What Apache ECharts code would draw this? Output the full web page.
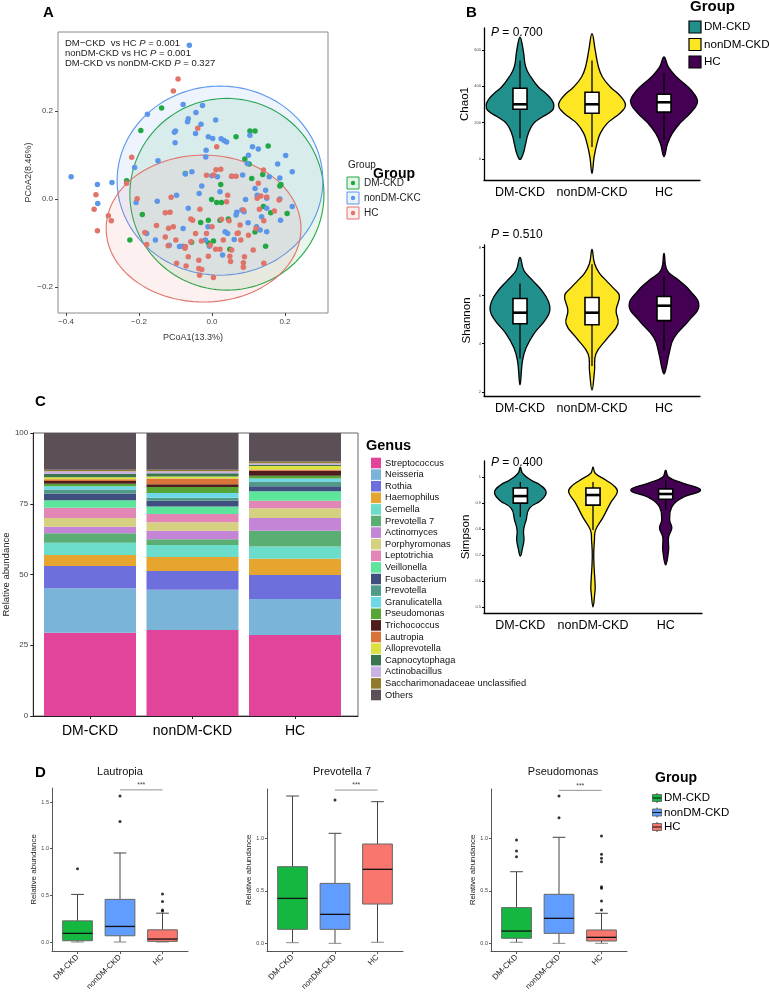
<!DOCTYPE html>
<html><head><meta charset="utf-8">
<script src="https://cdn.jsdelivr.net/npm/echarts@6/dist/echarts.min.js"></script>
<style>html,body{margin:0;padding:0;background:#fff}#c{width:769px;height:993px}</style>
</head><body><div id="c"></div>
<script>
const FF = '"Liberation Sans", Arial, Helvetica, sans-serif';
const groups = ['DM-CKD', 'nonDM-CKD', 'HC'];
const legendNamesA = ['DM-CKD', 'nonDM-CKC', 'HC'];
const colorsA = ['#22A843', '#5B96E8', '#E0736A'];
const violinColors = ['#21908C', '#FDE725', '#440154'];
const boxColorsD = ['#14B840', '#619CFF', '#F8766D'];

// ---- Panel A: PCoA points [PCoA1, PCoA2]
const pcoaDM = [[-0.138,0.207],[-0.195,0.156],[0.066,0.142],[0.104,0.155],[0.118,0.155],[0.154,0.121],[0.090,0.091],[0.102,0.080],[-0.073,0.058],[0.024,0.033],[-0.234,0.042],[-0.191,-0.035],[-0.225,-0.093],[-0.001,-0.001],[0.013,-0.008],[0.026,-0.008],[-0.010,-0.048],[0.022,-0.048],[0.045,-0.045],[-0.031,-0.053],[0.004,-0.095],[-0.056,-0.098],[0.049,-0.114],[0.118,-0.075],[0.147,-0.107],[0.161,-0.031],[0.206,-0.033],[0.189,0.033],[0.186,0.030],[0.141,-0.017],[0.139,0.056],[0.109,0.047],[-0.010,-0.100]];
const pcoaNon = [[-0.062,0.350],[-0.386,0.051],[-0.314,0.033],[-0.313,-0.010],[-0.274,0.038],[-0.177,0.193],[-0.079,0.215],[-0.026,0.213],[-0.044,0.197],[-0.065,0.183],[-0.067,0.176],[-0.100,0.155],[-0.103,0.152],[-0.030,0.170],[-0.045,0.149],[0.010,0.180],[-0.010,0.142],[0.002,0.138],[0.025,0.137],[0.033,0.133],[0.040,0.130],[-0.101,0.128],[-0.148,0.087],[-0.212,0.072],[-0.055,0.062],[-0.073,0.057],[-0.016,0.111],[-0.017,0.096],[0.104,0.145],[0.111,0.119],[0.127,0.114],[0.100,0.100],[0.097,0.081],[0.202,0.099],[0.180,0.080],[0.220,0.062],[0.186,0.048],[0.157,0.051],[0.084,0.055],[0.054,0.052],[0.015,0.051],[0.000,0.053],[-0.028,0.030],[-0.035,0.013],[0.022,0.017],[-0.097,0.009],[-0.150,-0.005],[-0.208,-0.008],[-0.179,-0.078],[-0.155,-0.093],[-0.117,-0.105],[-0.079,-0.067],[-0.065,-0.021],[-0.011,-0.063],[0.029,-0.127],[0.061,-0.092],[0.036,-0.074],[0.068,-0.030],[0.092,-0.001],[0.099,-0.054],[0.122,-0.063],[0.136,-0.040],[0.150,0.002],[0.150,-0.021],[0.147,0.020],[0.188,-0.048],[0.220,-0.017],[0.186,0.000],[0.088,-0.029],[0.066,-0.036],[0.082,-0.025],[0.132,-0.070],[0.150,-0.074],[-0.080,-0.107],[-0.089,-0.108],[-0.007,-0.107],[-0.018,-0.093],[0.043,-0.078],[0.118,0.024],[0.124,0.009]];
const pcoaHC = [[-0.093,0.273],[-0.106,0.246],[-0.039,0.161],[0.013,0.119],[-0.220,0.095],[-0.234,0.036],[-0.318,0.010],[-0.323,-0.023],[-0.284,-0.038],[-0.276,-0.049],[-0.314,-0.072],[-0.205,0.001],[-0.184,-0.076],[-0.179,-0.103],[-0.152,-0.060],[-0.128,-0.031],[-0.115,-0.030],[-0.112,0.004],[-0.119,-0.066],[-0.106,-0.063],[-0.099,-0.093],[-0.128,-0.086],[-0.120,-0.106],[-0.097,-0.146],[-0.071,-0.152],[-0.073,-0.108],[-0.058,-0.045],[-0.053,-0.048],[-0.045,-0.078],[-0.058,-0.097],[-0.033,-0.023],[-0.029,-0.095],[-0.036,-0.139],[-0.036,-0.158],[-0.034,-0.173],[-0.028,-0.160],[-0.005,-0.105],[-0.010,-0.130],[0.004,-0.178],[0.010,-0.114],[0.022,-0.114],[0.026,-0.046],[0.043,0.009],[0.047,-0.049],[0.049,-0.130],[0.051,-0.142],[0.054,-0.116],[0.066,0.052],[0.072,-0.077],[0.077,-0.059],[0.079,-0.093],[0.086,-0.025],[0.089,-0.131],[0.086,-0.145],[0.086,-0.155],[0.100,-0.082],[0.113,-0.116],[0.121,-0.067],[0.124,0.002],[0.127,0.036],[0.130,-0.023],[0.134,0.007],[0.141,0.066],[0.142,-0.146],[0.142,-0.049],[0.150,0.005],[0.171,-0.027],[0.184,-0.002],[0.011,0.067],[0.024,0.068],[-0.015,0.054],[0.004,0.055],[0.054,0.052],[-0.074,-0.112],[-0.015,-0.078],[0.031,-0.093],[-0.065,-0.131],[0.069,-0.078],[0.000,-0.063],[0.040,-0.006]];
// ellipse parameters [centre x, centre y, radius x, radius y]
const ellipseDM = [0.041, 0.011, 0.266, 0.218];
const ellipseNon = [0.022, 0.042, 0.282, 0.215];
const ellipseHC = [-0.023, -0.067, 0.267, 0.167];
const pTextsA = [['DM\u2212CKD  vs HC ', ' = 0.001'], ['nonDM-CKD vs HC ', ' = 0.001'], ['DM-CKD vs nonDM-CKD ', ' = 0.327']];

// ---- Panel B: violin profiles [value, relative half-width]
const chaoProfiles = [
  [[670,0],[597,0.09],[506,0.16],[451,0.30],[396,0.51],[360,0.72],[323,0.89],[296,0.94],[268,0.90],[232,0.63],[196,0.38],[141,0.23],[86,0.16],[31,0.09],[-2,0]],
  [[689,0],[597,0.09],[506,0.18],[451,0.29],[396,0.51],[360,0.72],[323,0.88],[296,0.93],[268,0.86],[232,0.65],[196,0.42],[141,0.23],[86,0.14],[13,0.06],[-79,0]],
  [[561,0],[506,0.12],[451,0.35],[396,0.67],[360,0.83],[323,0.93],[296,0.90],[268,0.80],[232,0.63],[196,0.44],[141,0.23],[86,0.10],[13,0]]
];
const chaoBoxes = [[115,274,301,389,542],[66,252,301,367,542],[104,258,312,356,471]];
const shannonProfiles = [
  [[7.58,0],[7.04,0.11],[6.63,0.35],[6.2,0.61],[5.79,0.78],[5.38,0.83],[4.96,0.69],[4.42,0.39],[3.83,0.17],[3.3,0.07],[2.29,0]],
  [[7.92,0],[7.33,0.07],[6.92,0.21],[6.63,0.39],[6.33,0.58],[6.0,0.76],[5.38,0.67],[4.83,0.72],[4.25,0.44],[3.58,0.11],[2.88,0.07],[2.08,0]],
  [[7.75,0],[7.04,0.09],[6.63,0.42],[6.2,0.72],[5.58,0.97],[4.96,0.69],[4.25,0.28],[3.58,0.14],[3.0,0.06],[2.75,0]]
];
const shannonBoxes = [[3.38,4.83,5.29,5.88,6.5],[3.08,4.79,5.29,5.92,7.3],[3.71,4.96,5.58,5.96,6.83]];
const simpsonProfiles = [
  [[1.038,0],[1.015,0.06],[0.988,0.30],[0.969,0.55],[0.942,0.71],[0.912,0.58],[0.88,0.25],[0.835,0.16],[0.796,0.09],[0.758,0.10],[0.727,0.06],[0.696,0]],
  [[1.038,0],[1.015,0.06],[0.988,0.36],[0.962,0.61],[0.942,0.67],[0.9,0.48],[0.846,0.28],[0.796,0.07],[0.758,0.04],[0.692,0.02],[0.577,0.06],[0.554,0.05],[0.5,0]],
  [[1.027,0],[1.0,0.08],[0.977,0.47],[0.95,0.96],[0.919,0.44],[0.885,0.17],[0.835,0.11],[0.804,0.17],[0.769,0.08],[0.719,0.08],[0.662,0]]
];
const simpsonBoxes = [[0.846,0.9,0.927,0.958,0.981],[0.796,0.892,0.931,0.958,0.981],[0.873,0.915,0.935,0.954,0.988]];
const pValuesB = ['0.700', '0.510', '0.400'];
const metricNames = ['Chao1', 'Shannon', 'Simpson'];
const chaoTicks = [0, 200, 400, 600];
const shannonTicks = [2, 4, 6, 8];
const simpsonTicks = [0.5, 0.6, 0.7, 0.8, 0.9, 1.0];

// ---- Panel C: relative abundance (%)
const genera = ['Streptococcus','Neisseria','Rothia','Haemophilus','Gemella','Prevotella 7','Actinomyces','Porphyromonas','Leptotrichia','Veillonella','Fusobacterium','Prevotella','Granulicatella','Pseudomonas','Trichococcus','Lautropia','Alloprevotella','Capnocytophaga','Actinobacillus','Saccharimonadaceae unclassified','Others'];
const genusColors = ['#E2449A','#7AB5D9','#6D70DC','#E5A52E','#6CDCCB','#5BAE73','#C585D7','#D5D180','#E186B5','#5CE59B','#3E4F80','#4F9B88','#6DD8E8','#56A535','#4E1E1C','#DA7338','#D9E23F','#3B7650','#CAB3E2','#8F7B2B','#5B5058'];
const abundDM  = [29.4,15.7,7.9,3.9,4.3,3.4,2.3,3.1,3.6,2.6,2.4,1.4,1.2,0.9,0.9,0.7,0.7,1.1,1.0,0.5,13.0];
const abundNon = [30.4,14.2,6.6,5.0,4.2,2.1,3.0,3.0,2.9,2.6,2.1,1.0,1.7,2.1,1.0,2.0,0.7,1.2,0.7,0.5,13.0];
const abundHC  = [28.6,12.7,8.5,5.8,4.3,5.6,4.5,3.4,2.7,3.3,1.8,1.7,1.0,1.0,1.8,0.4,1.2,0.4,0.6,0.6,10.1];

// ---- Panel D: boxplots [lower whisker, Q1, median, Q3, upper whisker]
const dTitles = ['Lautropia', 'Prevotella 7', 'Pseudomonas'];
const lautBoxes = [[0.0,0.014,0.093,0.227,0.51],[0.0,0.067,0.167,0.457,0.954],[0.0,0.007,0.032,0.131,0.309]];
const lautOutliers = [[0.785],[1.29,1.564],[0.514,0.433,0.344,0.332]];
const prevBoxes = [[0.006,0.133,0.428,0.73,1.403],[0.0,0.133,0.276,0.571,1.048],[0.01,0.374,0.705,0.946,1.349]];
const prevOutliers = [[],[1.365],[]];
const pseuBoxes = [[0.01,0.048,0.117,0.34,0.682],[0.0,0.095,0.238,0.467,1.01],[0.0,0.022,0.057,0.127,0.286]];
const pseuOutliers = [[0.984,0.879,0.825],[1.196,1.403],[0.317,0.403,0.524,0.539,0.777,0.81,0.848,1.022]];
const sigLevels = [1.63, 1.46, 1.457];
const dTicks = [[0, 0.5, 1.0, 1.5], [0, 0.5, 1.0], [0, 0.5, 1.0]];

// ================= build
const chart = echarts.init(document.getElementById('c'), null, {renderer: 'canvas'});

const grids = [
  {left: 58, top: 32, width: 270, height: 281, show: true, borderColor: '#8a8a8a', borderWidth: 1},
  {left: 484, top: 28, width: 216, height: 152},
  {left: 484, top: 245, width: 216, height: 151},
  {left: 484, top: 461, width: 218, height: 152},
  {left: 31, top: 433, width: 327, height: 283, show: true, borderColor: '#666', borderWidth: 1},
  {left: 52, top: 788, width: 136, height: 164},
  {left: 267, top: 789, width: 136, height: 162},
  {left: 491, top: 789, width: 136, height: 162},
  {left: 38.75, top: 433, width: 307.5, height: 283}
];

const fmtMinus = v => (v < 0 ? '\u2212' : '') + Math.abs(v).toFixed(1);
const xAxes = [], yAxes = [];
// A
xAxes.push({type: 'value', gridIndex: 0, min: -0.422, max: 0.318, splitLine: {show: false}, axisLine: {show: false, onZero: false},
  axisTick: {show: true, length: 3, lineStyle: {color: '#444'}, customValues: [-0.4, -0.2, 0, 0.2]},
  axisLabel: {customValues: [-0.4, -0.2, 0, 0.2], formatter: fmtMinus, fontSize: 8, color: '#444', fontFamily: FF, margin: 5},
  name: 'PCoA1(13.3%)', nameLocation: 'middle', nameGap: 20, nameTextStyle: {fontSize: 9, color: '#333', fontFamily: FF}});
yAxes.push({type: 'value', gridIndex: 0, min: -0.259, max: 0.38, splitLine: {show: false}, axisLine: {show: false, onZero: false},
  axisTick: {show: true, length: 3, lineStyle: {color: '#444'}, customValues: [-0.2, 0, 0.2]},
  axisLabel: {customValues: [-0.2, 0, 0.2], formatter: fmtMinus, fontSize: 8, color: '#444', fontFamily: FF, margin: 5},
  name: 'PCoA2(8.46%)', nameLocation: 'middle', nameGap: 25, nameTextStyle: {fontSize: 9, color: '#333', fontFamily: FF}});
// B
const bY = [[-115, 720, chaoTicks], [1.83, 8.1, shannonTicks], [0.477, 1.062, simpsonTicks]];
for (let k = 0; k < 3; k++) {
  xAxes.push({type: 'category', gridIndex: k + 1, data: groups,
    axisLine: {onZero: false, lineStyle: {color: '#000', width: 1.3}},
    axisTick: {alignWithLabel: true, length: 3, lineStyle: {color: '#000'}},
    axisLabel: {interval: 0, fontSize: 12.5, color: '#000', fontFamily: FF, margin: 6}});
  yAxes.push({type: 'value', gridIndex: k + 1, min: bY[k][0], max: bY[k][1], splitLine: {show: false},
    axisLine: {show: true, onZero: false, lineStyle: {color: '#000', width: 1.3}},
    axisTick: {show: true, length: 2, lineStyle: {color: '#000'}, customValues: bY[k][2]},
    axisLabel: {customValues: bY[k][2], fontSize: 4, color: '#444', fontFamily: FF, margin: 3},
    name: metricNames[k], nameLocation: 'middle', nameGap: 11, nameTextStyle: {fontSize: 11.5, color: '#000', fontFamily: FF}});
}
// C frame (grid 4)
xAxes.push({type: 'value', gridIndex: 4, min: 0, max: 1, splitLine: {show: false},
  axisLine: {show: true, onZero: false, lineStyle: {color: '#222'}}, axisTick: {show: false}, axisLabel: {show: false}});
yAxes.push({type: 'value', gridIndex: 4, min: 0, max: 100, interval: 25, splitLine: {show: false},
  axisLine: {show: true, onZero: false, lineStyle: {color: '#222'}},
  axisTick: {show: true, length: 3, lineStyle: {color: '#222'}},
  axisLabel: {fontSize: 8, color: '#444', fontFamily: FF, margin: 5},
  name: 'Relative abundance', nameLocation: 'middle', nameGap: 17, nameTextStyle: {fontSize: 9.5, color: '#222', fontFamily: FF}});
// D
const dY = [[-0.096, 1.65], [-0.073, 1.47], [-0.073, 1.47]];
for (let k = 0; k < 3; k++) {
  xAxes.push({type: 'value', gridIndex: k + 5, min: 0.4, max: 3.6, splitLine: {show: false},
    axisLine: {show: true, onZero: false, lineStyle: {color: '#555'}},
    axisTick: {show: true, length: 3, lineStyle: {color: '#555'}, customValues: [1, 2, 3]},
    axisLabel: {customValues: [1, 2, 3], formatter: v => groups[Math.round(v) - 1], rotate: 45, fontSize: 8, color: '#222', fontFamily: FF, margin: 5}});
  yAxes.push({type: 'value', gridIndex: k + 5, min: dY[k][0], max: dY[k][1], splitLine: {show: false},
    axisLine: {show: true, onZero: false, lineStyle: {color: '#555'}},
    axisTick: {show: true, length: 2, lineStyle: {color: '#555'}, customValues: dTicks[k]},
    axisLabel: {customValues: dTicks[k], formatter: v => v.toFixed(1), fontSize: 5.5, color: '#444', fontFamily: FF, margin: 3},
    name: 'Relative abundance', nameLocation: 'middle', nameGap: 9, nameTextStyle: {fontSize: 8, color: '#222', fontFamily: FF}});
}
// C bars (grid 8)
xAxes.push({type: 'category', gridIndex: 8, data: groups,
  axisLine: {show: false, onZero: false},
  axisTick: {show: true, alignWithLabel: true, length: 3, lineStyle: {color: '#222'}},
  axisLabel: {interval: 0, fontSize: 14, color: '#000', fontFamily: FF, margin: 8}});
yAxes.push({type: 'value', gridIndex: 8, min: 0, max: 100, show: false});
const BAR_AXIS = xAxes.length - 1;

const series = [];
// A ellipses
[ellipseDM, ellipseNon, ellipseHC].forEach((e, gi) => {
  series.push({type: 'custom', xAxisIndex: 0, yAxisIndex: 0, silent: true, z: 1, data: [e],
    renderItem: (params, api) => {
      const pts = [];
      for (let t = 0; t < 120; t++) {
        const a = t / 120 * Math.PI * 2;
        pts.push(api.coord([e[0] + e[2] * Math.cos(a), e[1] + e[3] * Math.sin(a)]));
      }
      return {type: 'polygon', shape: {points: pts}, style: {fill: colorsA[gi], stroke: colorsA[gi], lineWidth: 1.1, fillOpacity: 0.1}};
    }});
});
[pcoaDM, pcoaNon, pcoaHC].forEach((pts, gi) => {
  series.push({type: 'scatter', xAxisIndex: 0, yAxisIndex: 0, data: pts, symbolSize: 5.5, z: 3,
    itemStyle: {color: colorsA[gi], opacity: 1}});
});

// B violins
function violin(gridIdx, profiles, boxes) {
  return {type: 'custom', xAxisIndex: gridIdx, yAxisIndex: gridIdx, silent: true, data: [[0], [1], [2]],
    renderItem: (params, api) => {
      const i = params.dataIndex;
      const half = api.size([1, 0])[0] / 2;
      const right = [], left = [];
      profiles[i].forEach(([v, w]) => {
        const p = api.coord([i, v]);
        right.push([p[0] + w * half, p[1]]);
        left.push([p[0] - w * half, p[1]]);
      });
      const pts = right.concat(left.reverse().slice(1, -1));
      const b = boxes[i];
      const c = api.coord([i, b[2]])[0];
      const y = v => api.coord([i, v])[1];
      const bw = half * 2 * 0.195;
      return {type: 'group', children: [
        {type: 'polygon', shape: {points: pts, smooth: 0.45}, style: {fill: violinColors[i], stroke: '#000', lineWidth: 1.3}},
        {type: 'line', shape: {x1: c, y1: y(b[4]), x2: c, y2: y(b[0])}, style: {stroke: '#000', lineWidth: 1.3}},
        {type: 'rect', shape: {x: c - bw / 2, y: y(b[3]), width: bw, height: y(b[1]) - y(b[3])}, style: {fill: '#fff', stroke: '#000', lineWidth: 1.6}},
        {type: 'line', shape: {x1: c - bw / 2, y1: y(b[2]), x2: c + bw / 2, y2: y(b[2])}, style: {stroke: '#000', lineWidth: 2.6}}
      ]};
    }};
}
series.push(violin(1, chaoProfiles, chaoBoxes));
series.push(violin(2, shannonProfiles, shannonBoxes));
series.push(violin(3, simpsonProfiles, simpsonBoxes));

// C stacked bars
genera.forEach((g, gi) => {
  series.push({type: 'bar', name: g, xAxisIndex: BAR_AXIS, yAxisIndex: BAR_AXIS, stack: 'c', barWidth: 92,
    data: [abundDM[gi], abundNon[gi], abundHC[gi]],
    itemStyle: {color: genusColors[gi]}});
});

// D boxplots
function boxes(gridIdx, bx) {
  return {type: 'custom', xAxisIndex: gridIdx, yAxisIndex: gridIdx, silent: true, data: bx.map((b, i) => [i + 1, b[2]]),
    renderItem: (params, api) => {
      const i = params.dataIndex, b = bx[i], x = i + 1;
      const unit = api.size([1, 0])[0];
      const c = api.coord([x, b[2]])[0];
      const y = v => api.coord([x, v])[1];
      const bw = unit * 0.7, cw = unit * 0.3;
      return {type: 'group', children: [
        {type: 'line', shape: {x1: c, y1: y(b[4]), x2: c, y2: y(b[3])}, style: {stroke: '#444', lineWidth: 1}},
        {type: 'line', shape: {x1: c, y1: y(b[1]), x2: c, y2: y(b[0])}, style: {stroke: '#444', lineWidth: 1}},
        {type: 'line', shape: {x1: c - cw / 2, y1: y(b[4]), x2: c + cw / 2, y2: y(b[4])}, style: {stroke: '#444', lineWidth: 1}},
        {type: 'line', shape: {x1: c - cw / 2, y1: y(b[0]), x2: c + cw / 2, y2: y(b[0])}, style: {stroke: '#888', lineWidth: 1}},
        {type: 'rect', shape: {x: c - bw / 2, y: y(b[3]), width: bw, height: Math.max(1, y(b[1]) - y(b[3]))}, style: {fill: boxColorsD[i], stroke: '#666', lineWidth: 1}},
        {type: 'line', shape: {x1: c - bw / 2, y1: y(b[2]), x2: c + bw / 2, y2: y(b[2])}, style: {stroke: '#111', lineWidth: 1.3}}
      ]};
    }};
}
function outliers(gridIdx, out) {
  const d = [];
  out.forEach((arr, i) => arr.forEach(v => d.push([i + 1, v])));
  return {type: 'scatter', xAxisIndex: gridIdx, yAxisIndex: gridIdx, data: d, symbolSize: 3, itemStyle: {color: '#000'}, z: 4};
}
function sig(gridIdx, level) {
  return {type: 'custom', xAxisIndex: gridIdx, yAxisIndex: gridIdx, silent: true, data: [[2, 3, level]],
    renderItem: (params, api) => {
      const p1 = api.coord([2, level]), p2 = api.coord([3, level]);
      return {type: 'group', children: [
        {type: 'line', shape: {x1: p1[0], y1: p1[1], x2: p2[0], y2: p2[1]}, style: {stroke: '#777', lineWidth: 0.8}},
        {type: 'text', x: (p1[0] + p2[0]) / 2, y: p1[1] - 1, style: {text: '***', fontSize: 7, fill: '#444', align: 'center', verticalAlign: 'bottom', fontFamily: FF}}
      ]};
    }};
}
[[lautBoxes, lautOutliers], [prevBoxes, prevOutliers], [pseuBoxes, pseuOutliers]].forEach(([bx, out], k) => {
  series.push(boxes(k + 5, bx));
  series.push(outliers(k + 5, out));
  series.push(sig(k + 5, sigLevels[k]));
});

// graphic: panel letters, legends, annotations
const g = [];
const txt = (x, y, text, size, opts = {}) => g.push(Object.assign({type: 'text', x, y, style: Object.assign({text, fontSize: size, fontFamily: FF, fill: '#000', align: 'left', verticalAlign: 'middle'}, opts.style || {})}, opts.el || {}));
txt(43, 13, 'A', 15, {style: {fontWeight: 'bold'}});
txt(466, 13, 'B', 15, {style: {fontWeight: 'bold'}});
txt(35, 402, 'C', 15, {style: {fontWeight: 'bold'}});
txt(35, 773, 'D', 15, {style: {fontWeight: 'bold'}});
// A p-value texts
pTextsA.forEach((p, i) => g.push({type: 'text', x: 65, y: 43 + i * 10, style: {
  text: '{n|' + p[0] + '}{i|P}{n|' + p[1] + '}', align: 'left', verticalAlign: 'middle',
  rich: {n: {fontSize: 9.5, fontFamily: FF, fill: '#222'}, i: {fontSize: 9.5, fontFamily: FF, fontStyle: 'italic', fill: '#222'}}}}));
// A legend
txt(348, 165, 'Group', 10, {style: {fill: '#222'}});
txt(373, 174, 'Group', 14, {style: {fontWeight: 'bold'}});
legendNamesA.forEach((n, i) => {
  const cy = 183 + i * 15;
  g.push({type: 'rect', shape: {x: 347, y: cy - 6, width: 12, height: 12}, style: {fill: colorsA[i], fillOpacity: 0.12, stroke: colorsA[i], lineWidth: 1}});
  g.push({type: 'circle', shape: {cx: 353, cy: cy, r: 2.2}, style: {fill: colorsA[i]}});
  txt(364, cy, n, 10, {style: {fill: '#222'}});
});
// B legend
txt(690, 7, 'Group', 15, {style: {fontWeight: 'bold'}});
groups.forEach((n, i) => {
  const cy = 27 + i * 17.5;
  g.push({type: 'rect', shape: {x: 689, y: cy - 6, width: 12, height: 12}, style: {fill: violinColors[i], stroke: '#000', lineWidth: 1.2}});
  txt(704, cy, n, 11.6);
});
// B p values
const pY = [33, 235, 463];
pValuesB.forEach((p, i) => g.push({type: 'text', x: 491, y: pY[i], style: {
  text: '{i|P}{n| = ' + p + '}', align: 'left', verticalAlign: 'middle',
  rich: {n: {fontSize: 12, fontFamily: FF, fill: '#000'}, i: {fontSize: 12, fontFamily: FF, fontStyle: 'italic', fill: '#000'}}}}));
// C legend
txt(366, 446, 'Genus', 14.5, {style: {fontWeight: 'bold'}});
genera.forEach((n, i) => {
  const cy = 463 + i * 11.6;
  g.push({type: 'rect', shape: {x: 371, y: cy - 5.3, width: 10, height: 10.6}, style: {fill: genusColors[i]}});
  txt(385, cy, n, 9.3, {style: {fill: '#111'}});
});
// D titles
const dTitleX = [120, 342, 563];
dTitles.forEach((t, i) => txt(dTitleX[i], 772, t, 11, {style: {align: 'center', fill: '#111'}}));
// D legend
txt(655, 778, 'Group', 14, {style: {fontWeight: 'bold'}});
groups.forEach((n, i) => {
  const cy = 798 + i * 14.5;
  g.push({type: 'line', shape: {x1: 657, y1: cy - 5, x2: 657, y2: cy + 5}, style: {stroke: '#444', lineWidth: 1}});
  g.push({type: 'rect', shape: {x: 652.5, y: cy - 3.5, width: 9, height: 7}, style: {fill: boxColorsD[i], stroke: '#555', lineWidth: 0.8}});
  g.push({type: 'line', shape: {x1: 652.5, y1: cy, x2: 661.5, y2: cy}, style: {stroke: '#111', lineWidth: 1}});
  txt(664, cy, n, 11.5);
});

chart.setOption({
  animation: false,
  backgroundColor: '#fff',
  textStyle: {fontFamily: FF},
  grid: grids,
  xAxis: xAxes,
  yAxis: yAxes,
  series: series,
  graphic: {elements: g}
});
</script>
</body></html>
